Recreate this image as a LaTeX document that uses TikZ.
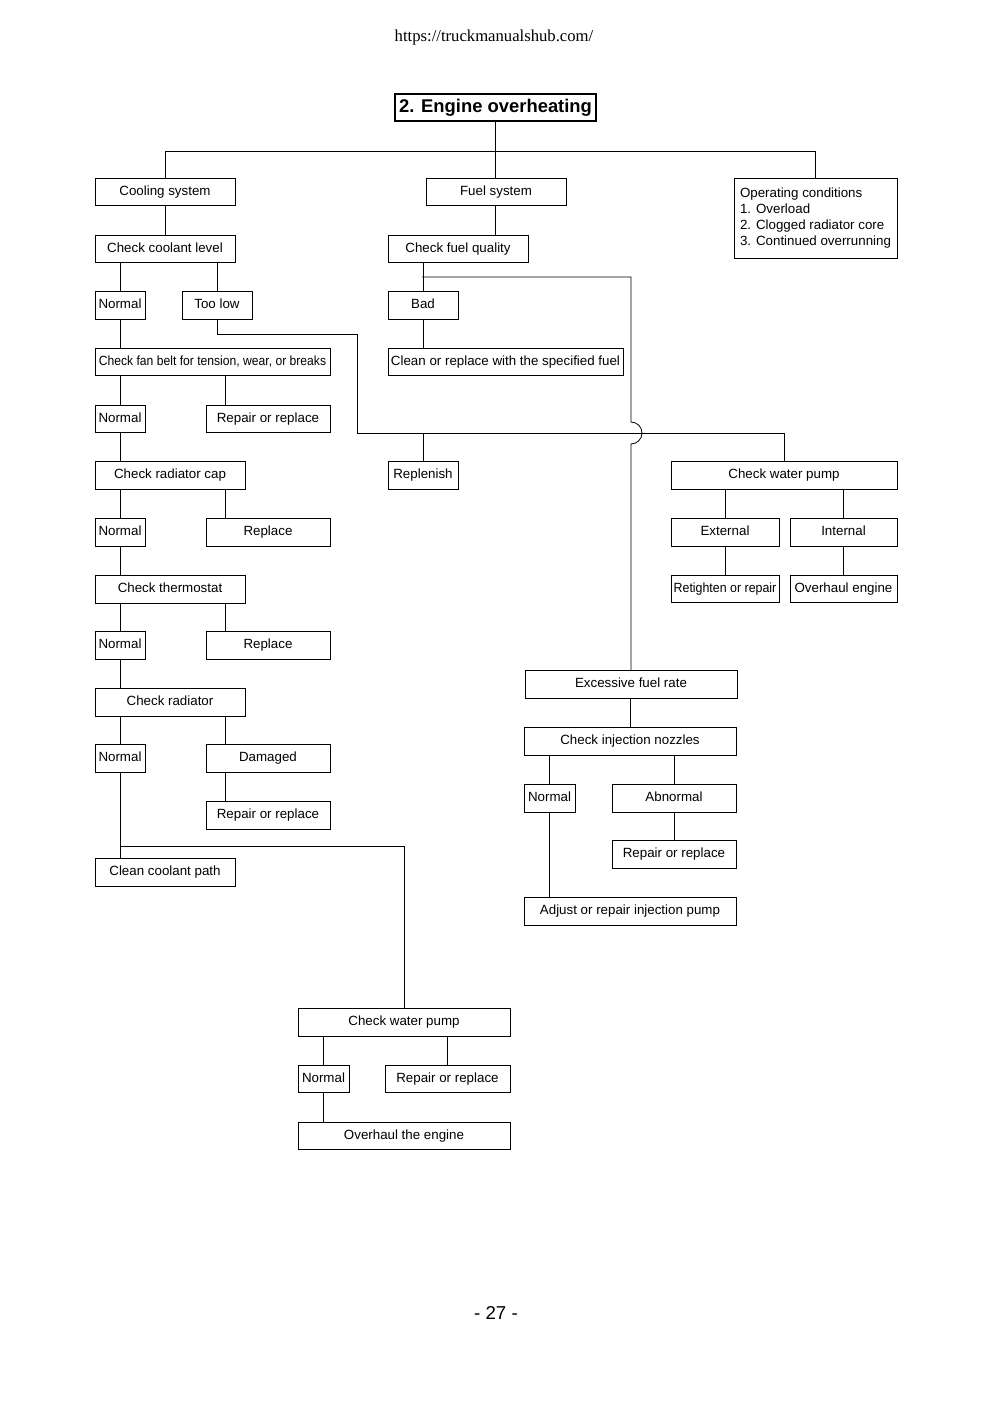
\documentclass[tikz,border=0pt]{standalone}
\usepackage{fontspec}
\setmainfont{Liberation Serif}
\setsansfont{Liberation Sans}
\usepackage{graphicx}
\usepackage{tikz}

\begin{document}
\begin{tikzpicture}[x=0.75pt,y=0.75pt]
\tikzstyle{every node}+=[inner sep=0pt]
\tikzstyle{box}=[draw=black, line width=0.6pt, minimum height=20.5pt, text height=7.5pt, text depth=2.5pt, font=\sffamily\fontsize{10}{12}\selectfont]
\tikzstyle{link}=[black, line width=0.6pt]
\path [fill=white] (0,0) rectangle (992,-1402);
\useasboundingbox (0,0) rectangle (992,-1402);
\node (url) at (494,-37) {\fontsize{12.5}{14}\selectfont https://truckmanualshub.com/};
\node (page) at (496,-1313) {\sffamily\fontsize{14}{16}\selectfont - 27 -};
\node [draw=black, line width=1.4pt, minimum width=150.75pt, minimum height=20.25pt, font=\sffamily\bfseries\fontsize{13.8}{16}\selectfont] (title) at (495.5,-107.5) {2. Engine overheating};
\node [box, minimum width=105pt] (cs) at (165,-192) {Cooling system};
\node [box, minimum width=105pt] (fs) at (496,-192) {Fuel system};
\node [draw=black, line width=0.6pt, minimum width=122.25pt, minimum height=60pt, align=left, font=\sffamily\fontsize{10}{12}\selectfont] (oc) at (815.5,-218) {Operating conditions\\1. Overload\\2. Clogged radiator core\\3. Continued overrunning};
\node [box, minimum width=105pt] (ccl) at (165,-249) {Check coolant level};
\node [box, minimum width=105pt] (fq) at (458,-249) {Check fuel quality};
\node [box, minimum width=37.5pt] (n1) at (120,-305.5) {Normal};
\node [box, minimum width=52.5pt] (tl) at (217,-305.5) {Too low};
\node [box, minimum width=52.5pt] (bad) at (423,-305.5) {Bad};
\node [box, minimum width=176.25pt] (fb) at (212.5,-362) {\scalebox{0.91}[1]{Check fan belt for tension, wear, or breaks}};
\node [box, minimum width=176.25pt] (clf) at (505.5,-362) {Clean or replace with the specified fuel};
\node [box, minimum width=37.5pt] (n2) at (120,-419) {Normal};
\node [box, minimum width=93pt] (rr1) at (268,-419) {Repair or replace};
\node [box, minimum width=112.5pt] (rc) at (170,-475.5) {Check radiator cap};
\node [box, minimum width=52.5pt] (rep) at (423,-475.5) {Replenish};
\node [box, minimum width=169.5pt] (wp1) at (784,-475.5) {Check water pump};
\node [box, minimum width=37.5pt] (n3) at (120,-532.5) {Normal};
\node [box, minimum width=93pt] (rp1) at (268,-532.5) {Replace};
\node [box, minimum width=81pt] (ext) at (725,-532.5) {External};
\node [box, minimum width=80.25pt] (int) at (843.5,-532.5) {Internal};
\node [box, minimum width=81pt] (ret) at (725,-589) {\scalebox{0.93}[1]{Retighten or repair}};
\node [box, minimum width=80.25pt] (ovh) at (843.5,-589) {Overhaul engine};
\node [box, minimum width=112.5pt] (th) at (170,-589.5) {Check thermostat};
\node [box, minimum width=37.5pt] (n4) at (120,-645.5) {Normal};
\node [box, minimum width=93pt] (rp2) at (268,-645.5) {Replace};
\node [box, minimum width=159pt] (xfr) at (631,-684.5) {Excessive fuel rate};
\node [box, minimum width=112.5pt] (rad) at (170,-702.5) {Check radiator};
\node [box, minimum width=159pt] (inj) at (630,-741.5) {Check injection nozzles};
\node [box, minimum width=37.5pt] (n5) at (120,-758.5) {Normal};
\node [box, minimum width=93pt] (dmg) at (268,-758.5) {Damaged};
\node [box, minimum width=38.25pt] (n6) at (549.5,-798.5) {Normal};
\node [box, minimum width=93pt] (abn) at (674,-798.5) {Abnormal};
\node [box, minimum width=93pt] (rr2) at (268,-815.5) {Repair or replace};
\node [box, minimum width=93pt] (rr3) at (674,-854.5) {Repair or replace};
\node [box, minimum width=105pt] (ccp) at (165,-872.5) {Clean coolant path};
\node [box, minimum width=159pt] (adj) at (630,-911.5) {Adjust or repair injection pump};
\node [box, minimum width=159pt] (wp2) at (404,-1022.5) {Check water pump};
\node [box, minimum width=38.25pt] (n7) at (323.5,-1079) {Normal};
\node [box, minimum width=93.75pt] (rr4) at (447.5,-1079) {Repair or replace};
\node [box, minimum width=159pt] (ovt) at (404,-1136) {Overhaul the engine};
\coordinate (k1) at (357,-334);
\coordinate (k2) at (357,-433);
\coordinate (fj) at (422,-277);
\coordinate (cj) at (121,-846);
\draw [link] (title.south) -- (title.south |- fs.north);
\draw [link] (cs.north) -- ++(0,27) -| (oc.north);
\draw [link] (cs.south) -- (ccl.north);
\draw [link] (fs.south -| title.south) -- (title.south |- fq.north);
\draw [link] (ccl.south -| n1.north) -- (n1.north);
\draw [link] (ccl.south -| tl.north) -- (tl.north);
\draw [link] (n1.south) -- (n1.south |- fb.north);
\draw [link] (tl.south) |- (k1) -- (k2) -| (wp1.north);
\draw [link] (k2 -| rep.north) -- (rep.north);
\draw [link] (fq.south -| bad.north) -- (bad.north);
\draw [link] (bad.south) -- (bad.south |- clf.north);
\draw [link] (fj) -- (fj -| xfr.north) -- ([yshift=8.25pt]k2 -| xfr.north) arc (90:-90:8.25pt) -- (xfr.north);
\draw [link] (fb.south -| n2.north) -- (n2.north);
\draw [link] ([xshift=15pt]rr1.north west) -- ([xshift=15pt]rr1.north west |- fb.south);
\draw [link] (n2.south) -- (n2.south |- rc.north);
\draw [link] (rc.south -| n3.north) -- (n3.north);
\draw [link] ([xshift=15pt]rp1.north west) -- ([xshift=15pt]rp1.north west |- rc.south);
\draw [link] (n3.south) -- (n3.south |- th.north);
\draw [link] (th.south -| n4.north) -- (n4.north);
\draw [link] ([xshift=15pt]rp2.north west) -- ([xshift=15pt]rp2.north west |- th.south);
\draw [link] (n4.south) -- (n4.south |- rad.north);
\draw [link] (rad.south -| n5.north) -- (n5.north);
\draw [link] ([xshift=15pt]dmg.north west) -- ([xshift=15pt]dmg.north west |- rad.south);
\draw [link] ([xshift=15pt]dmg.south west) -- ([xshift=15pt]rr2.north west);
\draw [link] (n5.south) -- (n5.south |- ccp.north);
\draw [link] (cj) -| (wp2.north);
\draw [link] (wp1.south -| ext.north) -- (ext.north);
\draw [link] (wp1.south -| int.north) -- (int.north);
\draw [link] (ext.south) -- (ret.north);
\draw [link] (int.south) -- (ovh.north);
\draw [link] (xfr.south -| inj.north) -- (inj.north);
\draw [link] (inj.south -| n6.north) -- (n6.north);
\draw [link] (inj.south -| abn.north) -- (abn.north);
\draw [link] (abn.south) -- (rr3.north);
\draw [link] (n6.south) -- (n6.south |- adj.north);
\draw [link] (wp2.south -| n7.north) -- (n7.north);
\draw [link] (wp2.south -| rr4.north) -- (rr4.north);
\draw [link] (n7.south) -- (n7.south |- ovt.north);
\end{tikzpicture}
\end{document}
